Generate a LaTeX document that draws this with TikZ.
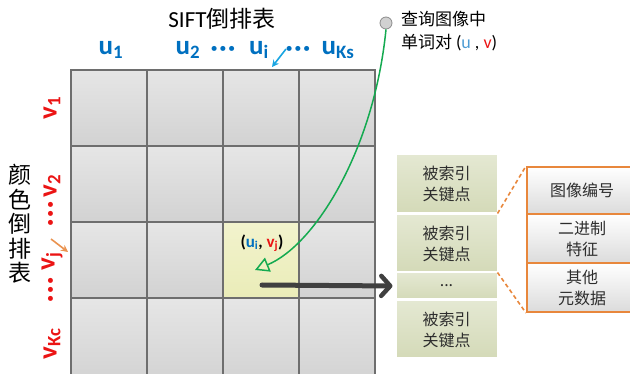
\documentclass[tikz,border=0pt]{standalone}
\usepackage{fontspec}
\setmainfont{Carlito}
\newfontfamily\cjk{Noto Sans CJK SC}
\usetikzlibrary{arrows.meta,shadings}
\definecolor{ublue}{RGB}{0,112,192}
\definecolor{vred}{RGB}{235,20,20}
\definecolor{gridline}{RGB}{110,110,110}
\definecolor{celltop}{RGB}{230,230,230}
\definecolor{cellbot}{RGB}{210,210,210}
\definecolor{yeltop}{RGB}{242,243,205}
\definecolor{yelbot}{RGB}{234,236,184}
\definecolor{kptop}{RGB}{228,232,210}
\definecolor{kpbot}{RGB}{212,218,184}
\definecolor{orng}{RGB}{232,135,60}
\definecolor{grn}{RGB}{20,170,80}
\definecolor{cyanarr}{RGB}{25,165,225}
\definecolor{darkarr}{RGB}{64,64,64}
\definecolor{txt}{RGB}{45,45,45}
\newcommand{\mydots}{·\kern1.6pt·\kern1.6pt·}
\begin{document}
\begin{tikzpicture}[x=1pt,y=-1pt,
  cell/.style={draw=gridline, line width=1.1pt, top color=celltop, bottom color=cellbot, minimum width=76pt, minimum height=76pt, inner sep=0pt},
  hcell/.style={cell, top color=yeltop, bottom color=yelbot},
  ulab/.style={font=\fontsize{27}{27}\selectfont\bfseries, text=ublue, inner sep=0pt},
  vlab/.style={font=\fontsize{27}{27}\selectfont\bfseries, text=vred, inner sep=0pt, rotate=90},
  title/.style={font=\cjk\fontsize{23}{24.5}\selectfont, text=black, inner sep=0pt, align=center},
  kp/.style={draw=white, line width=1pt, top color=kptop, bottom color=kpbot, minimum width=101pt, inner sep=0pt, align=center, text=txt, font=\cjk\fontsize{16}{21}\selectfont},
  det/.style={draw=orng, line width=2pt, top color=white, bottom color=black!14, minimum width=110pt, inner sep=0pt, align=center, text=txt, font=\cjk\fontsize{16}{21}\selectfont},
  dashline/.style={draw=orng, line width=1.6pt, dash pattern=on 4pt off 3pt},
  greenarrow/.style={draw=grn, line width=1.5pt, -{Triangle[open, length=14pt, width=15pt, line width=1.5pt]}},
  bigarrow/.style={draw=darkarr, line width=5pt, line cap=round, -{Straight Barb[length=9pt, width=20pt, line width=4.5pt, round]}}
]
\useasboundingbox (0,0) rectangle (630,374);

% grid cells
\foreach \r/\y in {1/108,2/184,3/260}{
  \foreach \c/\x in {1/109,2/185,3/261,4/337}{
    \node[cell] (c\r\c) at (\x,\y) {};
  }
}
\foreach \c/\x in {1/109,2/185,3/261,4/337}{
  \node[cell, minimum height=86pt] (c4\c) at (\x,341) {};
}
\node[hcell] (c33) at (261,260) {};

% titles
\node[title] (sift) at (222,19) {{\fontspec{Carlito}SIFT}倒排表};
\node[title] (color) at (20,224) {颜\\色\\倒\\排\\表};

% u labels
\node[ulab] (u1) at (111,50) {u\textsubscript{1}};
\node[ulab] (u2) at (188,50) {u\textsubscript{2}};
\node[ulab] (ud1) at (223,51) {\mydots};
\node[ulab] (ui) at (259,50) {u\textsubscript{i}};
\node[ulab] (ud2) at (298,51) {\mydots};
\node[ulab] (uk) at (338,50) {u\textsubscript{Ks}};

% v labels
\node[vlab] (v1) at (52,108) {v\textsubscript{1}};
\node[vlab] (v2) at (52,186) {v\textsubscript{2}};
\node[vlab] (vd1) at (53,214) {\mydots};
\node[vlab] (vj) at (52,261) {v\textsubscript{j}};
\node[vlab] (vd2) at (53,290) {\mydots};
\node[vlab] (vk) at (52,344) {v\textsubscript{Kc}};

% small arrows
\coordinate (ua) at (286,49);
\coordinate (ub) at (272,67);
\draw[draw=cyanarr, line width=1.6pt, -{Stealth[length=7pt, width=7pt]}] (ua) -- (ub);
\coordinate (va) at (51,239);
\coordinate (vb) at (68,252);
\draw[draw=orng!90, line width=1.6pt, -{Stealth[length=7pt, width=7pt]}] (va) -- (vb);

% query label
\node[circle, draw=black!45, fill=black!18, minimum size=12pt, inner sep=0pt, line width=0.8pt] (q) at (386,23) {};
\node[anchor=north west, align=left, inner sep=0pt, font=\cjk\fontsize{17}{23}\selectfont] (ql) at (401,11)
  {查询图像中\\单词对 {\fontspec{Carlito}\fontsize{18}{23}\selectfont(\textcolor{ublue!70}{u} , \textcolor{vred}{v})}};

% cell label
\node[inner sep=0pt, font=\fontsize{17}{17}\selectfont\bfseries] (uv) at (262,243)
  {(\textcolor{ublue}{u\textsubscript{i}}, \textcolor{vred}{v\textsubscript{j}})};

% key point column
\node[kp, minimum height=58pt] (kp1) at (446.5,184) {被索引\\关键点};
\node[kp, minimum height=57pt] (kp2) at (446.5,243.5) {被索引\\关键点};
\node[kp, minimum height=26pt] (kpd) at (446.5,286) {...};
\node[kp, minimum height=57pt] (kp4) at (446.5,329.5) {被索引\\关键点};

% detail boxes
\node[det, minimum height=47pt] (d1) at (582,190.5) {图像编号};
\node[det, minimum height=49pt] (d2) at (582,238.5) {二进制\\特征};
\node[det, minimum height=49pt] (d3) at (582,287.5) {其他\\元数据};

\draw[dashline] (kp1.south east) -- (d1.north west);
\draw[dashline] (kp2.south east) -- (d3.south west);

% arrows
\coordinate (tgt) at (255,270);
\draw[greenarrow] (q.south) .. controls (374,150) and (315,245) .. (tgt);
\coordinate (src) at (262,285);
\draw[bigarrow, shorten >=3pt] (src) -- (kpd.west);
\end{tikzpicture}
\end{document}
